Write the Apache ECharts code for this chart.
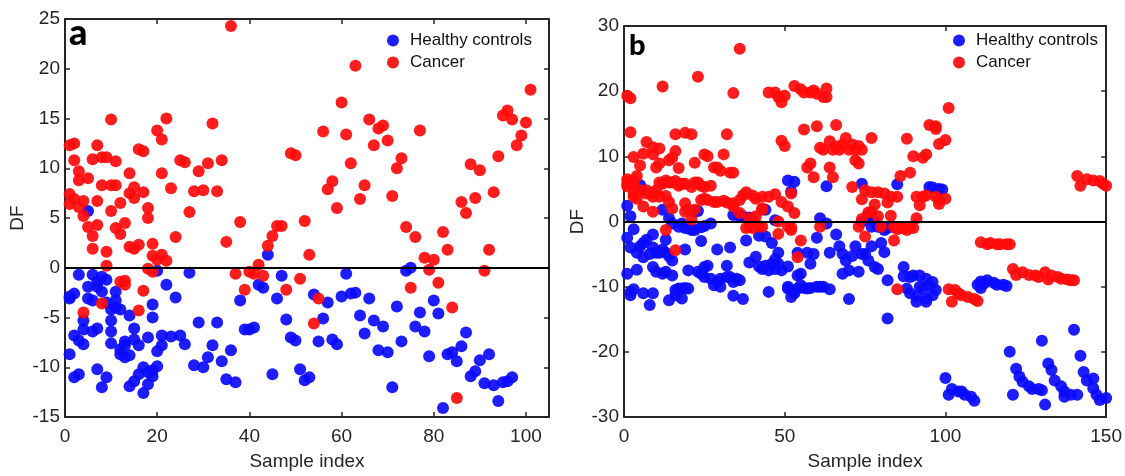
<!DOCTYPE html>
<html>
<head>
<meta charset="utf-8">
<script src="https://cdn.jsdelivr.net/npm/echarts@6/dist/echarts.min.js"></script>
<style>
html,body{margin:0;padding:0;background:#fff;}
#chart{width:1125px;height:476px;}
</style>
</head>
<body>
<div id="chart"></div>
<script>
// ---------- Data ----------
const seriesNames = ['Healthy controls', 'Cancer'];
const panelLetters = ['a', 'b'];
const xAxisName = 'Sample index';
const yAxisName = 'DF';

// Panel a axes
const xA = { min: 0, max: 105, interval: 20 };
const yA = { min: -15, max: 25, interval: 5 };
// Panel b axes
const xB = { min: 0, max: 150, interval: 50 };
const yB = { min: -30, max: 30, interval: 10 };

// Panel a: healthy controls [sample index, DF]
const healthyA = [
[1,-2.9],[1,-3.1],[2,-2.6],[1,-8.7],[2,-11.0],[3,-10.7],[2,-6.8],[3,-7.3],[4,-7.7],[3,-0.7],
[4,-5.3],[4,-6.2],[5,-1.9],[5,-3.1],[5,5.7],[6,-0.7],[6,-3.3],[6,-6.4],[7,-1.4],[7,-1.9],
[7,-6.1],[7,-10.2],[8,-0.9],[8,-2.4],[8,-12.0],[9,-1.2],[9,-3.5],[9,-11.0],[10,-4.2],[10,-5.3],
[10,-6.4],[10,-7.6],[11,-2.4],[11,-3.3],[11,-4.0],[12,-4.2],[12,-8.2],[12,-8.7],[13,-7.8],[13,-7.4],
[13,-9.0],[14,-4.8],[14,-8.8],[14,-11.9],[15,-6.1],[15,-7.2],[15,-11.4],[16,-7.8],[16,-10.7],[17,-10.0],
[17,-12.6],[18,-7.0],[18,-10.5],[18,-11.7],[19,-3.7],[19,-5.0],[19,-10.3],[19,-10.9],[20,-0.3],[20,-8.4],
[20,-9.9],[21,-6.8],[21,-7.8],[22,-1.7],[23,-6.9],[24,-3.0],[25,-6.8],[26,-7.7],[27,-0.5],[28,-9.8],
[29,-5.5],[30,-10.0],[31,-9.0],[32,-7.8],[33,-5.5],[34,-9.4],[35,-11.2],[36,-8.3],[37,-11.5],[38,-3.3],
[39,-6.2],[40,-6.2],[41,-6.0],[42,-1.7],[43,-2.0],[44,1.3],[45,-10.7],[46,-3.1],[47,-0.8],[48,-5.2],
[49,-7.0],[50,-7.3],[51,-10.2],[52,-11.3],[53,-11.0],[54,-2.7],[55,-7.4],[56,-5.1],[57,-3.5],[58,-7.2],
[59,-7.7],[60,-2.9],[61,-0.6],[62,-2.6],[63,-2.5],[64,-4.8],[65,-6.6],[66,-3.1],[67,-5.3],[68,-8.3],
[69,-5.9],[70,-8.5],[71,-12.0],[72,-3.9],[73,-7.4],[74,-0.3],[75,0.0],[76,-5.9],[77,-4.5],[78,-6.4],
[79,-8.9],[80,-3.3],[81,-4.6],[82,-14.1],[83,-8.7],[84,-8.5],[85,-9.4],[86,-7.9],[87,-6.5],[88,-10.9],
[89,-10.4],[90,-9.3],[91,-11.6],[92,-8.7],[93,-11.8],[94,-13.4],[95,-11.5],[96,-11.4],[97,-11.0]
];

// Panel a: cancer [sample index, DF]
const cancerA = [
[1,12.3],[2,12.5],[2,10.8],[3,9.7],[3,8.8],[5,9.0],[1,7.4],[2,6.9],[4,6.7],[1,6.4],
[3,6.1],[4,5.2],[5,4.1],[6,3.2],[6,1.9],[6,10.9],[7,12.3],[7,6.7],[7,4.3],[8,11.1],
[9,11.1],[8,8.3],[9,1.6],[9,0.2],[8,-3.6],[4,-4.5],[10,14.9],[10,8.3],[11,8.3],[11,10.7],
[10,5.7],[11,4.0],[12,3.4],[12,6.5],[12,-1.4],[13,-1.3],[13,-1.7],[13,4.5],[14,9.5],[14,7.5],
[14,2.1],[15,8.1],[15,7.0],[15,1.9],[16,11.9],[16,2.3],[16,-4.3],[17,11.7],[17,7.6],[17,-2.3],
[18,6.0],[18,5.0],[18,-0.1],[19,2.4],[19,1.2],[19,-0.4],[20,13.8],[20,0.8],[21,12.9],[21,9.5],
[21,1.3],[22,15.0],[22,0.7],[23,8.0],[24,3.1],[25,10.8],[26,10.6],[27,5.6],[28,7.7],[29,9.7],
[30,7.8],[31,10.5],[32,14.5],[33,7.7],[34,10.8],[35,2.6],[36,24.3],[37,-0.6],[38,4.6],[39,-2.2],
[40,-0.4],[41,-0.6],[42,0.3],[43,-0.8],[44,2.2],[45,3.2],[46,4.2],[47,4.2],[48,-2.2],[49,11.5],
[50,11.3],[51,-1.1],[52,4.7],[53,1.3],[54,-5.6],[55,-3.1],[56,13.7],[57,7.9],[58,8.7],[59,6.0],
[60,16.6],[61,13.4],[62,10.5],[63,20.3],[64,6.9],[65,8.3],[66,14.9],[67,12.3],[68,14.0],[69,14.3],
[70,12.8],[71,7.2],[72,10.0],[73,11.0],[74,4.1],[75,-2.0],[76,3.1],[77,13.8],[78,1.0],[79,-0.2],
[80,0.8],[81,-1.5],[82,3.6],[83,1.8],[84,-4.0],[85,-13.1],[86,6.6],[87,5.5],[88,10.4],[89,7.0],
[90,9.8],[91,-0.3],[92,1.8],[93,7.6],[94,11.2],[95,15.3],[96,15.8],[97,14.9],[98,12.3],[99,13.3],
[100,14.6],[101,17.9]
];

// Panel b: healthy controls [sample index, DF]
const healthyB = [
[1,2.4],[2,0.8],[5,5.6],[12,1.8],[23,1.6],[27,-0.3],[14,0.5],[15,-0.3],[17,-0.8],[19,-1.0],
[21,-1.3],[22,-1.3],[34,1.0],[36,0.8],[37,0.8],[39,0.6],[40,0.5],[44,1.8],[47,0.2],[51,6.3],
[52,4.6],[53,6.1],[63,5.4],[61,0.5],[63,-0.3],[74,5.8],[85,5.7],[95,5.3],[96,5.2],[98,5.0],
[99,4.9],[74,0.0],[76,0.8],[77,-0.8],[79,-0.8],[81,-1.3],[1,-2.5],[3,-1.2],[2,-4.0],[4,-4.8],
[5,-3.8],[6,-3.3],[7,-2.8],[9,-2.0],[9,-4.0],[11,-4.8],[12,-4.3],[13,-4.8],[14,-5.3],[15,-6.0],
[6,-5.5],[8,-5.0],[10,-4.8],[1,-8.0],[4,-7.4],[9,-7.0],[10,-7.7],[12,-8.0],[13,-7.7],[15,-8.3],
[2,-10.8],[3,-10.4],[6,-11.0],[9,-11.0],[8,-12.8],[14,-12.1],[17,-10.3],[18,-10.3],[20,-10.3],[18,-11.8],
[13,-2.8],[19,-4.3],[18,-0.3],[20,-1.0],[24,-0.9],[25,-0.7],[22,1.5],[24,-3.0],[20,-7.5],[23,-7.7],
[25,-7.0],[26,-6.8],[24,-8.0],[25,-8.5],[27,-8.8],[29,-9.3],[30,-8.8],[32,-8.5],[33,-8.5],[35,-8.8],
[34,-9.3],[36,-9.0],[32,-6.8],[29,-4.3],[33,-4.0],[28,-9.8],[30,-10.0],[34,-11.4],[37,-11.9],[38,-2.9],
[42,-2.2],[44,-2.3],[39,-6.3],[41,-5.4],[42,-6.9],[44,-6.8],[46,-6.5],[47,-5.8],[48,-6.5],[51,-6.9],
[49,-7.5],[47,-7.3],[45,-7.5],[43,-7.3],[46,-3.3],[48,-4.8],[45,-10.8],[51,-10.3],[53,-10.8],[52,-11.6],
[54,-8.3],[54,-4.8],[2,-11.3],[16,-10.5],[19,-10.2],[16,-11.3],[51,-10.0],[54,-10.3],[56,-10.2],[58,-10.2],
[60,-10.0],[62,-10.0],[64,-10.4],[57,-10.3],[66,-2.0],[68,-8.0],[70,-11.9],[60,-2.5],[57,-4.8],[59,-5.0],
[58,-6.5],[55,-8.0],[64,-4.8],[67,-3.8],[68,-5.0],[71,-5.3],[72,-3.8],[74,-5.0],[77,-3.8],[80,-3.3],
[81,-4.7],[75,-5.0],[76,-6.0],[78,-7.0],[79,-7.3],[69,-6.0],[70,-7.5],[73,-7.7],[55,-9.8],[61,-10.0],
[53,-11.0],[78,0.0],[80,-0.8],[82,-1.0],[84,-0.8],[76,1.0],[82,-9.0],[87,-7.0],[87,-8.4],[89,-8.5],
[90,-8.3],[92,-8.3],[94,-8.8],[96,-9.3],[95,-9.8],[97,-10.5],[93,-10.3],[91,-11.5],[94,-11.8],[88,-10.3],
[92,-10.0],[89,-11.0],[91,-12.3],[94,-12.3],[96,-11.3],[82,-14.9],
[100,-24.0],[101,-26.6],[102,-25.7],[104,-26.1],[105,-26.1],[106,-26.6],[108,-26.9],[109,-27.5],
[110,-9.7],[111,-9.2],[113,-9.0],[115,-9.4],[116,-9.7],[118,-9.7],[119,-9.9],[111,-10.2],[112,-9.5],
[120,-20.0],[121,-26.6],[122,-22.6],[123,-23.8],[124,-24.6],[126,-25.3],[127,-25.7],[129,-25.7],[130,-25.9],[130,-18.3],
[131,-28.1],[132,-21.8],[133,-22.8],[134,-24.4],[136,-25.3],[137,-26.1],[139,-26.6],[141,-26.6],[137,-26.9],[140,-16.6],
[142,-20.6],[143,-23.1],[144,-24.4],[146,-24.1],[146,-25.6],[147,-26.6],[148,-27.4],[150,-27.1]
];

// Panel b: cancer [sample index, DF]
const cancerB = [
[1,19.3],[2,18.9],[2,13.7],[3,9.9],[1,6.5],[2,6.2],[1,5.4],[3,5.8],[4,7.0],[5,8.6],
[6,10.4],[7,12.2],[9,11.4],[9,10.3],[11,11.2],[12,20.7],[3,4.3],[5,4.8],[7,4.8],[9,4.3],
[4,3.5],[6,2.3],[9,1.5],[10,8.3],[11,8.9],[14,9.4],[15,9.8],[16,10.8],[17,8.2],[16,13.4],
[19,13.6],[21,13.4],[23,22.2],[22,9.0],[25,10.3],[26,10.0],[28,8.3],[29,8.3],[30,7.8],[31,10.3],
[32,13.4],[33,7.5],[34,7.5],[34,19.7],[36,26.5],[11,6.0],[13,6.3],[14,6.0],[16,6.2],[18,5.8],
[19,5.8],[21,5.3],[22,6.0],[24,5.5],[25,5.3],[27,5.5],[10,4.8],[11,3.8],[13,3.9],[14,3.0],
[15,2.0],[19,2.8],[20,1.8],[22,1.8],[24,3.3],[26,3.3],[28,3.0],[29,3.0],[31,3.2],[32,2.9],
[34,2.8],[36,3.3],[37,4.0],[38,4.5],[40,4.0],[41,3.5],[43,3.8],[45,3.8],[47,4.2],[13,-1.3],
[19,1.5],[21,0.3],[36,1.3],[39,0.5],[41,0.8],[43,1.8],[45,19.8],[47,19.8],[48,19.1],[49,18.3],
[50,19.3],[49,12.4],[50,11.6],[53,20.8],[55,20.3],[56,19.8],[58,19.8],[59,20.1],[60,19.6],[62,19.1],
[63,19.1],[63,20.4],[56,14.1],[60,14.6],[66,14.8],[57,8.3],[58,8.9],[59,6.8],[61,11.3],[62,11.0],
[64,12.3],[65,11.0],[66,11.5],[68,11.8],[69,12.8],[64,8.3],[65,6.8],[67,11.0],[70,11.0],[72,11.0],
[49,3.0],[51,2.3],[53,1.3],[52,-0.9],[52,-1.3],[39,-0.8],[43,-0.8],[48,0.0],[61,-0.8],
[71,11.8],[73,11.6],[74,11.0],[72,9.4],[73,8.9],[77,12.8],[71,5.3],[74,3.4],[75,4.8],[77,4.5],
[79,4.5],[81,4.3],[83,3.8],[85,3.8],[78,2.6],[82,2.9],[76,1.4],[83,0.9],[88,12.7],[90,10.0],
[93,9.8],[94,10.3],[86,7.0],[89,7.5],[95,14.8],[97,14.6],[97,14.2],[98,11.9],[100,12.5],[101,17.4],
[91,3.8],[93,3.8],[94,4.0],[97,3.8],[98,3.3],[100,3.5],[92,2.5],[98,2.7],[91,0.5],[84,-0.8],
[86,-1.0],[88,-1.3],[90,-1.0],[73,-0.8],[74,0.4],[16,-4.4],[38,-1.0],[40,-1.0],[42,-0.7],[48,-1.9],
[51,-0.8],[54,-5.5],[52,4.3],[55,-2.9],[75,-2.3],[77,1.5],[79,0.8],[80,-0.8],[84,-2.9],[85,-1.2],
[87,-1.0],[89,-0.8],[85,-10.4],
[1,5.8],[3,6.3],[7,4.3],[9,3.8],[12,5.8],[15,6.0],[17,5.5],[23,6.0],[25,3.5],[34,2.3],[43,2.0],[3,3.8],
[101,-10.4],[103,-10.5],[104,-11.0],[105,-11.3],[107,-11.6],[109,-11.9],[110,-12.2],[102,-12.3],
[111,-3.2],[113,-3.5],[114,-3.3],[116,-3.5],[117,-3.5],[119,-3.5],[120,-3.5],
[121,-7.3],[122,-8.2],[124,-7.8],[126,-8.2],[128,-8.3],[129,-8.5],[131,-7.8],[132,-8.9],[133,-8.3],[135,-8.5],
[136,-8.8],[138,-8.9],[139,-9.0],[140,-9.0],
[141,7.0],[142,5.5],[144,6.5],[146,6.3],[148,6.2],[149,5.8],[150,5.5]
];

// ---------- Styling ----------
const AXIS_COLOR = '#262626';
const FONT = '"Liberation Sans", Arial, sans-serif';
const BLUE = '#0a0aff';
const RED = '#ff0a0a';

function xAxisDef(gridIndex, ext, position) {
  const isMain = position === 'bottom';
  return {
    type: 'value', gridIndex, position,
    min: ext.min, max: ext.max, interval: ext.interval,
    name: isMain ? xAxisName : '',
    nameLocation: 'middle', nameGap: 35,
    nameTextStyle: { fontFamily: FONT, fontSize: 19, color: AXIS_COLOR },
    axisLine: { show: true, onZero: false, lineStyle: { color: AXIS_COLOR, width: 2 } },
    axisTick: { show: true, inside: true, length: 5, lineStyle: { color: AXIS_COLOR, width: 1.5 } },
    axisLabel: {
      show: isMain, margin: 10, fontFamily: FONT, fontSize: 19, color: AXIS_COLOR,
      formatter: v => (v % ext.interval === 0 ? String(v) : '')
    },
    splitLine: { show: false }
  };
}
function yAxisDef(gridIndex, ext, position, nameGap) {
  const isMain = position === 'left';
  return {
    type: 'value', gridIndex, position,
    min: ext.min, max: ext.max, interval: ext.interval,
    name: isMain ? yAxisName : '',
    nameLocation: 'middle', nameGap: nameGap, nameRotate: 90,
    nameTextStyle: { fontFamily: FONT, fontSize: 19, color: AXIS_COLOR },
    axisLine: { show: true, onZero: false, lineStyle: { color: AXIS_COLOR, width: 2 } },
    axisTick: { show: true, inside: true, length: 5, lineStyle: { color: AXIS_COLOR, width: 1.5 } },
    axisLabel: { show: isMain, margin: 5, fontFamily: FONT, fontSize: 19, color: AXIS_COLOR },
    splitLine: { show: false }
  };
}
function zeroLine() {
  return {
    silent: true, symbol: 'none', animation: false,
    label: { show: false },
    lineStyle: { color: '#000', width: 2, type: 'solid' },
    emphasis: { disabled: true },
    data: [{ yAxis: 0 }]
  };
}
function scatter(name, data, xi, yi, color, withZero) {
  const s = {
    name, type: 'scatter', data, xAxisIndex: xi, yAxisIndex: yi,
    symbol: 'circle', symbolSize: 12,
    itemStyle: { color, opacity: 0.92 },
    emphasis: { disabled: true },
    z: 2
  };
  if (withZero) s.markLine = zeroLine();
  return s;
}
function legendDef(left) {
  return {
    orient: 'vertical', left, top: 32, padding: 0,
    icon: 'circle', itemWidth: 24, itemHeight: 12, itemGap: 5,
    textStyle: { fontFamily: FONT, fontSize: 17, color: '#111' },
    data: seriesNames, selectedMode: false
  };
}

const chart = echarts.init(document.getElementById('chart'), null, { renderer: 'canvas' });
chart.setOption({
  animation: false,
  backgroundColor: '#fff',
  grid: [
    { left: 65, top: 19, right: 576, bottom: 58 },
    { left: 624, top: 26, right: 17, bottom: 52 }
  ],
  xAxis: [
    xAxisDef(0, xA, 'bottom'), xAxisDef(0, xA, 'top'),
    xAxisDef(1, xB, 'bottom'), xAxisDef(1, xB, 'top')
  ],
  yAxis: [
    yAxisDef(0, yA, 'left', 38), yAxisDef(0, yA, 'right', 0),
    yAxisDef(1, yB, 'left', 29), yAxisDef(1, yB, 'right', 0)
  ],
  legend: [legendDef(387), legendDef(953)],
  series: [
    scatter(seriesNames[0], healthyA, 0, 0, BLUE, false),
    scatter(seriesNames[1], cancerA, 0, 0, RED, true),
    scatter(seriesNames[0], healthyB, 2, 2, BLUE, false),
    scatter(seriesNames[1], cancerB, 2, 2, RED, true)
  ],
  graphic: [
    { type: 'text', left: 69, top: 15, z: 10,
      style: { text: panelLetters[0], font: '900 36px Lato, "Open Sans", sans-serif', fill: '#000' } },
    { type: 'text', left: 629, top: 31, z: 10,
      style: { text: panelLetters[1], font: '900 29px Lato, "Open Sans", sans-serif', fill: '#000' } }
  ]
});
</script>
</body>
</html>
